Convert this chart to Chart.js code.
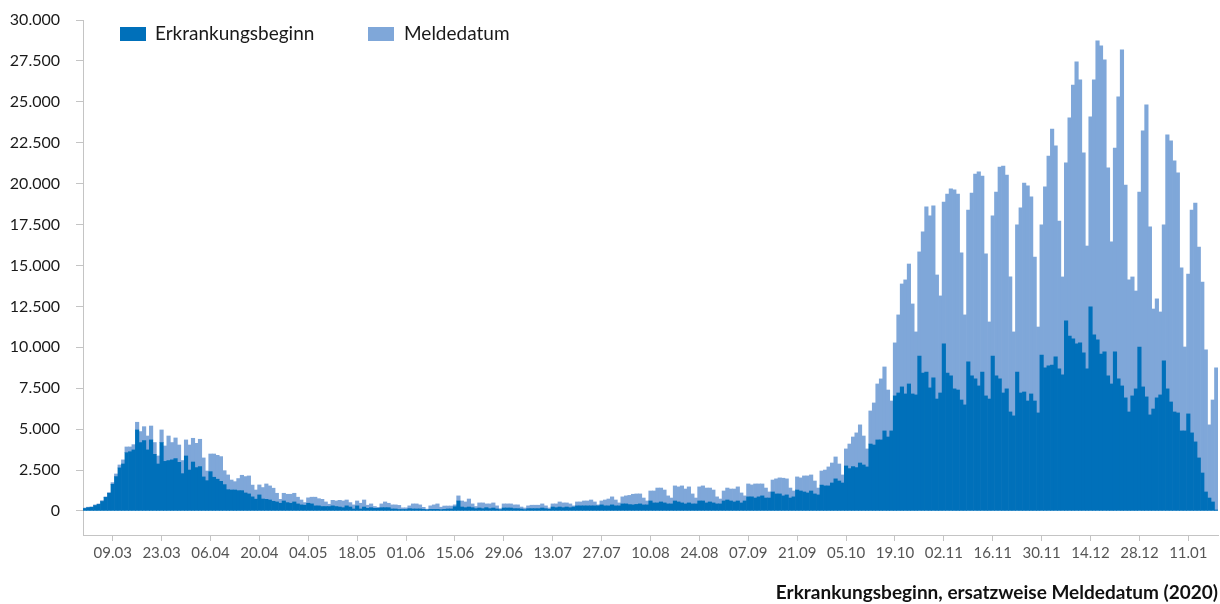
<!DOCTYPE html>
<html>
<head>
<meta charset="utf-8">
<script src="https://cdn.jsdelivr.net/npm/chart.js@4"></script>
<style>
	html, body { margin: 0; padding: 0; background: #fff; }
	#wrap { width: 1220px; height: 604px; }
</style>
</head>
<body>
<div id="wrap"><canvas id="cases-chart" width="1220" height="604"></canvas></div>
<script>
// Daily cases, 01.03.2020 - 19.01.2021
const startDate = new Date(2020, 2, 1);
const dayCount = 325;

const erkrankungsbeginn = [
	150, 200, 220, 330, 400, 580, 830, 1080, 1630, 2100,
	2630, 2870, 3560, 3620, 3730, 4950, 4180, 4300, 3730, 4340,
	3460, 2870, 4180, 3030, 3080, 3120, 3200, 2970, 2280, 3360,
	2500, 2990, 2650, 2710, 2080, 1850, 2400, 2060, 1940, 1810,
	1610, 1300, 1280, 1280, 1240, 1240, 1100, 1040, 860, 720,
	980, 730, 710, 670, 590, 550, 470, 610, 510, 470,
	550, 430, 370, 350, 470, 430, 310, 310, 270, 270,
	270, 310, 270, 240, 200, 310, 240, 120, 310, 120,
	240, 160, 200, 160, 160, 200, 200, 200, 120, 120,
	90, 90, 90, 140, 120, 120, 120, 100, 70, 100,
	100, 100, 80, 100, 120, 120, 260, 610, 240, 200,
	240, 200, 140, 180, 140, 200, 140, 180, 120, 80,
	180, 180, 180, 140, 140, 120, 80, 140, 140, 140,
	140, 180, 140, 100, 240, 200, 240, 200, 240, 200,
	240, 310, 310, 310, 310, 310, 310, 310, 370, 310,
	310, 370, 310, 310, 430, 430, 390, 370, 400, 430,
	370, 370, 610, 490, 490, 550, 490, 430, 430, 610,
	550, 490, 430, 490, 430, 430, 610, 610, 490, 550,
	490, 430, 430, 610, 670, 610, 550, 610, 490, 610,
	860, 860, 790, 860, 920, 790, 790, 1160, 1040, 1040,
	920, 980, 790, 860, 1280, 1220, 1160, 1100, 1220, 1040,
	980, 1580, 1530, 1530, 1710, 1960, 1830, 1710, 2750, 2590,
	2710, 2650, 2930, 2810, 2690, 4090, 4030, 4340, 4340, 4890,
	4520, 4890, 7030, 7210, 7580, 7150, 7760, 7150, 7090, 9470,
	8430, 8490, 7520, 8130, 6840, 7210, 10210, 8430, 8250, 7460,
	7390, 6780, 6480, 9110, 8250, 8070, 7640, 8490, 7030, 6840,
	9470, 8250, 8070, 7210, 7460, 6050, 5810, 8490, 7210, 7270,
	6720, 7150, 6720, 5990, 9530, 8740, 8860, 8920, 9410, 8680,
	8310, 11610, 10690, 10510, 10210, 10270, 9660, 8680, 12470, 10760,
	10450, 9590, 9720, 8250, 7760, 9720, 8070, 7640, 6910, 6050,
	7030, 7460, 10020, 7580, 6970, 5870, 6230, 6910, 7090, 9170,
	7460, 6660, 6050, 5990, 4890, 4890, 5930, 4770, 4220, 3240,
	2320, 1160, 790, 550, 60
];

const meldedatum = [
	30, 30, 30, 40, 30, 50, 30, 40, 100, 160,
	180, 250, 350, 290, 320, 470, 670, 850, 850, 850,
	720, 490, 770, 940, 1500, 1060, 1260, 1060, 800, 980,
	1530, 1450, 1480, 1670, 1160, 590, 1080, 1420, 1460, 1510,
	850, 900, 610, 510, 740, 940, 1000, 1100, 720, 560,
	610, 700, 940, 860, 800, 530, 240, 470, 510, 550,
	530, 410, 300, 160, 330, 410, 530, 440, 440, 280,
	140, 340, 340, 410, 410, 360, 270, 250, 300, 350,
	430, 190, 230, 110, 60, 230, 350, 270, 250, 250,
	250, 100, 100, 170, 310, 310, 250, 120, 40, 210,
	270, 330, 150, 200, 180, 180, 110, 310, 370, 350,
	490, 230, 130, 310, 350, 230, 290, 310, 190, 60,
	250, 250, 250, 230, 230, 120, 100, 170, 210, 210,
	210, 250, 170, 80, 190, 230, 310, 290, 250, 230,
	70, 240, 240, 300, 300, 360, 240, 60, 240, 360,
	420, 490, 360, 180, 430, 490, 560, 650, 640, 610,
	420, 240, 610, 730, 910, 850, 790, 490, 360, 920,
	920, 1040, 910, 980, 610, 360, 860, 920, 910, 850,
	790, 430, 300, 610, 730, 730, 790, 860, 610, 310,
	790, 730, 860, 790, 730, 610, 370, 730, 920, 980,
	1080, 980, 610, 360, 800, 800, 980, 1040, 980, 790,
	420, 860, 970, 1160, 1220, 1340, 1040, 490, 1040, 1500,
	1810, 2120, 2330, 1770, 1100, 2020, 2570, 3420, 3730, 3910,
	2870, 1830, 3240, 4770, 6290, 6970, 7330, 5500, 3850, 6360,
	8620, 10090, 10510, 10510, 7580, 5930, 8670, 10940, 11430, 12160,
	11980, 8990, 5500, 9280, 11180, 12520, 13080, 11980, 8680, 4710,
	8560, 11240, 12950, 13870, 13070, 8250, 5130, 8990, 11310, 12770,
	13140, 12040, 8800, 5250, 7950, 11060, 12830, 14420, 12900, 9040,
	5990, 9660, 13330, 15520, 17230, 16070, 12220, 7510, 11610, 15580,
	18270, 18830, 17840, 12710, 8680, 12460, 17230, 20530, 13010, 8070,
	7270, 5980, 9470, 15640, 17840, 11490, 6110, 6050, 5070, 8310,
	15520, 15950, 15340, 14670, 9960, 5130, 8550, 13620, 14600, 12890,
	11670, 8680, 4470, 6230, 8680
];

const yTickValues = [0, 2500, 5000, 7500, 10000, 12500, 15000, 17500, 20000, 22500, 25000, 27500, 30000];

// day labels like 09.03
function buildDayLabels() {
	const labels = [];
	for (let i = 0; i < dayCount; i++) {
		const d = new Date(startDate.getFullYear(), startDate.getMonth(), startDate.getDate() + i);
		const dd = String(d.getDate()).padStart(2, '0');
		const mm = String(d.getMonth() + 1).padStart(2, '0');
		labels.push(dd + '.' + mm);
	}
	return labels;
}

const dayLabels = buildDayLabels();
const axisGrey = '#c4c4c4';

function formatThousands(v) {
	return String(v).replace(/\B(?=(\d{3})+(?!\d))/g, '.');
}

// legend drawn in the top left of the plot
const topLegend = {
	id: 'topLegend',
	afterDraw(chart) {
		const ctx = chart.ctx;
		const spots = [{ box: 120, text: 155 }, { box: 368, text: 404 }];
		ctx.save();
		ctx.font = '19px Lato';
		ctx.textBaseline = 'middle';
		ctx.textAlign = 'left';
		chart.data.datasets.forEach((ds, i) => {
			ctx.fillStyle = ds.backgroundColor;
			ctx.fillRect(spots[i].box, 27, 26, 14);
			ctx.fillStyle = '#1a1a1a';
			ctx.fillText(ds.label, spots[i].text, 34);
		});
		ctx.restore();
	}
};

const ctx = document.getElementById('cases-chart').getContext('2d');
new Chart(ctx, {
	type: 'bar',
	data: {
		labels: dayLabels,
		datasets: [{
			label: 'Erkrankungsbeginn',
			data: erkrankungsbeginn,
			backgroundColor: '#0070ba',
			borderWidth: 0,
			barPercentage: 1,
			categoryPercentage: 1
		}, {
			label: 'Meldedatum',
			data: meldedatum,
			backgroundColor: '#7fa7d9',
			borderWidth: 0,
			barPercentage: 1,
			categoryPercentage: 1
		}]
	},
	options: {
		responsive: false,
		animation: false,
		layout: {
			padding: { top: 20, right: 2, left: 0, bottom: 0 }
		},
		plugins: {
			legend: { display: false },
			tooltip: { enabled: false }
		},
		scales: {
			x: {
				stacked: true,
				afterFit: scale => { scale.height = 69; },
				afterBuildTicks: axis => {
					axis.ticks = axis.ticks.filter(t => t.value >= 8 && (t.value - 8) % 14 === 0);
				},
				border: { color: axisGrey },
				grid: {
					offset: false,
					drawOnChartArea: false,
					drawTicks: true,
					tickLength: 6,
					color: axisGrey
				},
				ticks: {
					autoSkip: false,
					maxRotation: 0,
					padding: 3,
					color: '#555',
					font: { family: 'Lato', size: 15 }
				},
				title: {
					display: true,
					text: 'Erkrankungsbeginn, ersatzweise Meldedatum (2020)',
					align: 'end',
					color: '#111',
					font: { family: 'Lato', size: 19, weight: 'bold' },
					padding: { top: 0, bottom: 0 }
				}
			},
			y: {
				stacked: true,
				min: -1470,
				max: 30000,
				afterFit: scale => { scale.width = 83; },
				afterBuildTicks: axis => {
					axis.ticks = yTickValues.map(v => ({ value: v }));
				},
				border: { color: axisGrey },
				grid: {
					drawOnChartArea: false,
					drawTicks: true,
					// long tick slot, only the 7px next to the axis is drawn
					tickLength: 23,
					tickBorderDash: [7, 16],
					tickBorderDashOffset: 7,
					color: axisGrey
				},
				ticks: {
					padding: 0,
					color: '#1a1a1a',
					font: { family: 'Lato', size: 16 },
					callback: v => formatThousands(v)
				}
			}
		}
	},
	plugins: [topLegend]
});
</script>
</body>
</html>
